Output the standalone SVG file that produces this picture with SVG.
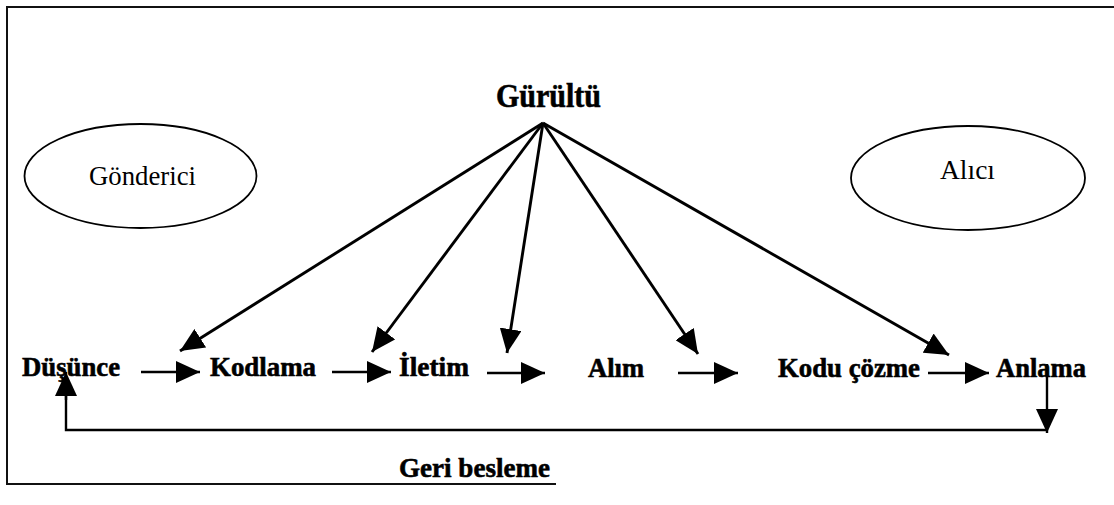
<svg xmlns="http://www.w3.org/2000/svg" width="1114" height="505" viewBox="0 0 1114 505">
  <defs>
    <marker id="head" markerUnits="userSpaceOnUse" markerWidth="24" markerHeight="22" refX="24" refY="11" orient="auto" viewBox="0 0 24 22">
      <path d="M0,0 L24,11 L0,22 Z" fill="#000"/>
    </marker>
  </defs>
  <style>
    .frame { fill: none; stroke: #111; stroke-width: 2; }
    .ell { fill: #fff; stroke: #000; stroke-width: 1.8; }
    .reg { font-family: "Liberation Serif", "Times New Roman", serif; font-size: 28px; fill: #000; }
    .lbl { font-family: "Liberation Serif", "Times New Roman", serif; font-size: 28px; font-weight: bold; fill: #000; stroke: #000; stroke-width: 0.6; }
    .title { font-family: "Liberation Serif", "Times New Roman", serif; font-size: 33px; font-weight: bold; fill: #000; stroke: #000; stroke-width: 0.6; }
    .fan { stroke: #000; stroke-width: 2.9; fill: none; marker-end: url(#head); }
    .flow { stroke: #000; stroke-width: 2.4; fill: none; marker-end: url(#head); }
    .fb { stroke: #000; stroke-width: 2.4; fill: none; }
  </style>
  <rect width="1114" height="505" fill="#fff"/>

  <!-- outer frame (open on the right) -->
  <path class="frame" d="M1114,7 H7 V484 H556"/>

  <!-- connectors -->
  <g id="connectors">
    <!-- noise source fanning out to each stage -->
    <line class="fan" x1="543" y1="123" x2="180" y2="351"/>
    <line class="fan" x1="543" y1="123" x2="372" y2="352"/>
    <line class="fan" x1="543" y1="123" x2="507" y2="353"/>
    <line class="fan" x1="543" y1="123" x2="698" y2="354"/>
    <line class="fan" x1="543" y1="123" x2="949" y2="355"/>
    <!-- stage to stage flow -->
    <line class="flow" x1="141" y1="372" x2="200" y2="372"/>
    <line class="flow" x1="332" y1="372" x2="391" y2="372"/>
    <line class="flow" x1="487" y1="373" x2="545" y2="373"/>
    <line class="flow" x1="678" y1="373" x2="738" y2="373"/>
    <line class="flow" x1="928" y1="373" x2="989" y2="373"/>
    <!-- feedback loop -->
    <line class="flow" x1="1047" y1="364" x2="1047" y2="433"/>
    <path class="fb" d="M1047,430 H66 V385"/>
    <line class="flow" x1="66" y1="400" x2="66" y2="372"/>
  </g>

  <g id="noise">
    <text class="title" x="496" y="107" textLength="105" lengthAdjust="spacingAndGlyphs">Gürültü</text>
  </g>
  <g id="sender">
    <ellipse class="ell" cx="140.5" cy="176" rx="116" ry="52"/>
    <text class="reg" x="89" y="185" textLength="107" lengthAdjust="spacingAndGlyphs">Gönderici</text>
  </g>
  <g id="receiver">
    <ellipse class="ell" cx="968" cy="178" rx="117" ry="52"/>
    <text class="reg" x="940" y="179" textLength="55" lengthAdjust="spacingAndGlyphs">Alıcı</text>
  </g>

  <g id="dusunce"><text class="lbl" x="22" y="376" textLength="98" lengthAdjust="spacingAndGlyphs">Düşünce</text></g>
  <g id="kodlama"><text class="lbl" x="210" y="376" textLength="106" lengthAdjust="spacingAndGlyphs">Kodlama</text></g>
  <g id="iletim"><text class="lbl" x="399" y="376" textLength="70" lengthAdjust="spacingAndGlyphs">İletim</text></g>
  <g id="alim"><text class="lbl" x="588" y="377" textLength="56" lengthAdjust="spacingAndGlyphs">Alım</text></g>
  <g id="kodu-cozme"><text class="lbl" x="778" y="377" textLength="142" lengthAdjust="spacingAndGlyphs">Kodu çözme</text></g>
  <g id="anlama"><text class="lbl" x="996" y="377" textLength="90" lengthAdjust="spacingAndGlyphs">Anlama</text></g>
  <g id="geri-besleme"><text class="lbl" x="399" y="477" textLength="151" lengthAdjust="spacingAndGlyphs">Geri besleme</text></g>
</svg>
